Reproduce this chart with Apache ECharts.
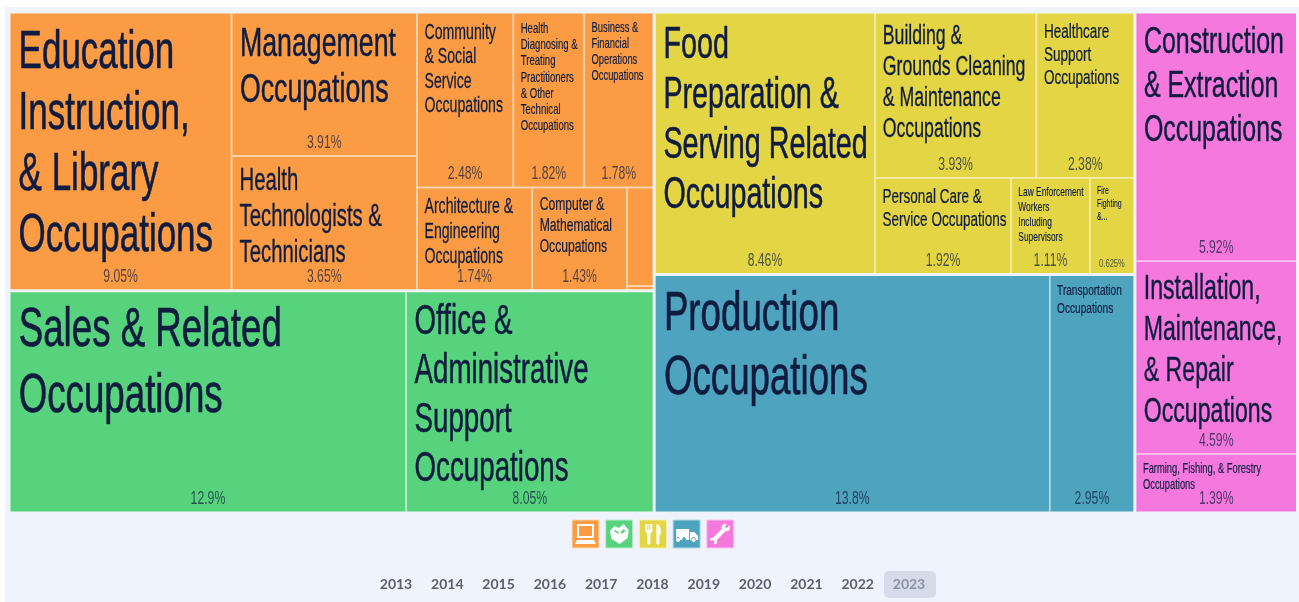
<!DOCTYPE html>
<html>
<head>
<meta charset="utf-8">
<style>
  html, body { margin: 0; padding: 0; background: #fff; }
  #chart { width: 1299px; height: 602px; }
</style>
<script src="https://cdn.jsdelivr.net/npm/echarts@6/dist/echarts.min.js"></script>
</head>
<body>
<div id="chart"></div>
<script>
// occupation groups, share of jobs in percent
var groupNames = ['Professional', 'Sales & Office', 'Service', 'Production & Transportation', 'Natural Resources'];
var groupColors = ['#fb9c45', '#58d37d', '#e3d543', '#4ea3bf', '#f579dd'];
var gapColors = ['#fdd9b5', '#bdeecb', '#f4eda9', '#b2d8e5', '#fbc6f0'];

var professionalNames = ['Education\nInstruction,\n& Library\nOccupations', 'Management\nOccupations', 'Health\nTechnologists &\nTechnicians', 'Community\n& Social\nService\nOccupations', 'Health\nDiagnosing &\nTreating\nPractitioners\n& Other\nTechnical\nOccupations', 'Business &\nFinancial\nOperations\nOccupations', 'Architecture &\nEngineering\nOccupations', 'Computer &\nMathematical\nOccupations', 'Legal Occupations', 'Life, Physical & Social Science Occupations'];
var professionalValues = [9.05, 3.91, 3.65, 2.48, 1.82, 1.78, 1.74, 1.43, 0.385, 0.015];
// [font size, line height, space above the first line]
var professionalFonts = [[53, 61, 9], [40.5, 46, 8], [30.8, 36, 7], [21.4, 24.5, 7], [14.5, 16.3, 7], [14.2, 16, 7], [21.4, 25, 6], [18.4, 21, 6], [0, 0, 0], [0, 0, 0]];

var salesNames = ['Sales & Related\nOccupations', 'Office &\nAdministrative\nSupport\nOccupations'];
var salesValues = [12.9, 8.05];
var salesFonts = [[55.6, 66, 5], [42, 49, 6]];

var serviceNames = ['Food\nPreparation &\nServing Related\nOccupations', 'Building &\nGrounds Cleaning\n& Maintenance\nOccupations', 'Healthcare\nSupport\nOccupations', 'Personal Care &\nService Occupations', 'Law Enforcement\nWorkers\nIncluding\nSupervisors', 'Fire\nFighting\n&...'];
var serviceValues = [8.46, 3.93, 2.38, 1.92, 1.11, 0.625];
var serviceFonts = [[43.5, 50, 7], [26.8, 31, 8], [20.5, 23, 7], [20.5, 23, 7], [12.7, 15, 6], [10.5, 13, 6]];

var productionNames = ['Production\nOccupations', 'Transportation\nOccupations'];
var productionValues = [13.8, 2.95];
var productionFonts = [[55.6, 64, 7], [15.3, 18, 6]];

var naturalNames = ['Construction\n& Extraction\nOccupations', 'Installation,\nMaintenance,\n& Repair\nOccupations', 'Farming, Fishing, & Forestry\nOccupations'];
var naturalValues = [5.92, 4.59, 1.39];
var naturalFonts = [[37.8, 44, 7], [35, 41, 7], [14.2, 16, 6]];

var years = ['2013', '2014', '2015', '2016', '2017', '2018', '2019', '2020', '2021', '2022', '2023'];

var textColor = '#0f1c3f';
var percentColor = 'rgba(15,28,63,0.72)';
var labelFont = '"Liberation Sans", sans-serif';

// no condensed face is installed, so squeeze the map labels when they are drawn
var labelSqueeze = 0.66;
['fillText', 'strokeText'].forEach(function (method) {
  var native = CanvasRenderingContext2D.prototype[method];
  CanvasRenderingContext2D.prototype[method] = function (text, x, y) {
    if (this.font.indexOf('Liberation Sans') >= 0) {
      native.call(this, text, x, y, this.measureText(text).width * labelSqueeze);
    } else {
      native.call(this, text, x, y);
    }
  };
});

function groupData(i, names, values, fonts, showPercent) {
  var children = names.map(function (name, j) {
    var node = { name: name, value: values[j] };
    var f = fonts[j];
    if (showPercent) {
      node.label = { show: values[j] >= 0.5, fontSize: values[j] < 1 ? 11.5 : 18.5 };
    } else {
      node.label = {
        show: f[0] > 0, fontSize: f[0], lineHeight: f[1],
        padding: [f[2], 0, 0, 6 + f[0] * 0.04],
        textBorderColor: textColor, textBorderWidth: f[0] * 0.012
      };
    }
    return node;
  });
  return {
    name: groupNames[i],
    children: children,
    itemStyle: showPercent ? {} : { color: groupColors[i], borderColor: gapColors[i] }
  };
}

function treeData(showPercent) {
  return [
    groupData(0, professionalNames, professionalValues, professionalFonts, showPercent),
    groupData(1, salesNames, salesValues, salesFonts, showPercent),
    groupData(2, serviceNames, serviceValues, serviceFonts, showPercent),
    groupData(3, productionNames, productionValues, productionFonts, showPercent),
    groupData(4, naturalNames, naturalValues, naturalFonts, showPercent)
  ];
}

var mapLeft = 10.5, mapTop = 13.5, mapWidth = 1285.5, mapHeight = 498;

var nameSeries = {
  type: 'treemap',
  left: mapLeft, top: mapTop, width: mapWidth, height: mapHeight,
  roam: false, nodeClick: false,
  breadcrumb: { show: false },
  sort: 'desc',
  visibleMin: 0,
  animation: false,
  label: {
    position: 'insideTopLeft',
    color: textColor,
    fontFamily: labelFont,
    overflow: 'none'
  },
  levels: [
    { itemStyle: { gapWidth: 3, borderWidth: 0, borderColor: '#eff3fd' } },
    { itemStyle: { gapWidth: 1.5, borderWidth: 0 } },
    { itemStyle: { gapWidth: 0, borderWidth: 0 } }
  ],
  data: treeData(false)
};

// second treemap on top only carries the percent labels at the bottom of each box
var clear = 'rgba(0,0,0,0)';
var percentSeries = {
  type: 'treemap',
  left: mapLeft, top: mapTop, width: mapWidth, height: mapHeight,
  roam: false, nodeClick: false, silent: true,
  breadcrumb: { show: false },
  sort: 'desc',
  visibleMin: 0,
  animation: false,
  label: {
    position: 'insideBottom',
    distance: -2,
    color: percentColor,
    fontFamily: labelFont,
    overflow: 'none',
    formatter: function (p) { return p.value.toPrecision(3) + '%'; }
  },
  itemStyle: { color: clear, borderColor: clear },
  levels: [
    { itemStyle: { gapWidth: 3, borderWidth: 0, color: clear, borderColor: clear } },
    { itemStyle: { gapWidth: 1.5, borderWidth: 0, color: clear, borderColor: clear } },
    { itemStyle: { gapWidth: 0, borderWidth: 0, color: clear, borderColor: clear } }
  ],
  data: treeData(true)
};

// filter buttons under the map, icons drawn in a 27x28 box
var iconPaths = [
  'M5 4H22V18H5ZM7 6V16H20V6ZM5 20H22L24 24H3Z',
  'M4 11L9 6L13 8L18 4L23 10L22 18L14 24L6 19ZM13 12L9 10L8 11L13 14ZM15 12L16 14L20 11L18 9Z',
  'M6 4H8V10H9V4H10V10H11V4H13V11L11 14V23C11 25 8 25 8 23V14L6 11ZM17 4C22 5 22 11 21 15H20V23C20 25 17 25 17 23Z',
  'M3 9H16V20H13C13 16 9 16 9 20H7C7 16 3 16 3 20ZM17 12H21L25 16V20H23C23 16 18 16 18 20H17ZM5 18A2 2 0 1 0 5 22A2 2 0 1 0 5 18ZM20.500 18A2 2 0 1 0 20.500 22A2 2 0 1 0 20.500 18Z',
  'M23 5L20 8L18 7L20 4C17 3 14 5 15 9L6 18C3 17 3 20 4 21L6 20L8 22L7 24C10 25 11 22 10 20L19 11C22 12 24 9 23 5Z'
];

var graphics = [
  { type: 'rect', z: -10, silent: true, shape: { x: 5, y: 7, width: 1294, height: 595 }, style: { fill: '#eff3fd' } }
];
iconPaths.forEach(function (d, i) {
  var x = 572 + i * 33.7;
  echarts.graphic.registerShape('icon' + i, echarts.graphic.extendPath(d, {}));
  graphics.push({ type: 'rect', shape: { x: x, y: 520, width: 27, height: 28 }, style: { fill: groupColors[i], stroke: gapColors[i], lineWidth: 1 } });
  graphics.push({ type: 'icon' + i, x: x, y: 520, style: { fill: '#fff' } });
});
graphics.push({ type: 'rect', shape: { x: 884, y: 571, width: 52, height: 27, r: 5 }, style: { fill: '#d5dbe8' } });
years.forEach(function (y, i) {
  graphics.push({
    type: 'text',
    x: 396 + i * 51.3, y: 584.5,
    style: {
      text: y, align: 'center', verticalAlign: 'middle',
      font: 'bold 14px Lato, sans-serif',
      fill: i === years.length - 1 ? '#8a93a5' : '#58606f'
    }
  });
});

var myChart = echarts.init(document.getElementById('chart'));
myChart.setOption({
  animation: false,
  tooltip: { show: false },
  graphic: graphics,
  series: [nameSeries, percentSeries]
});
</script>
</body>
</html>
